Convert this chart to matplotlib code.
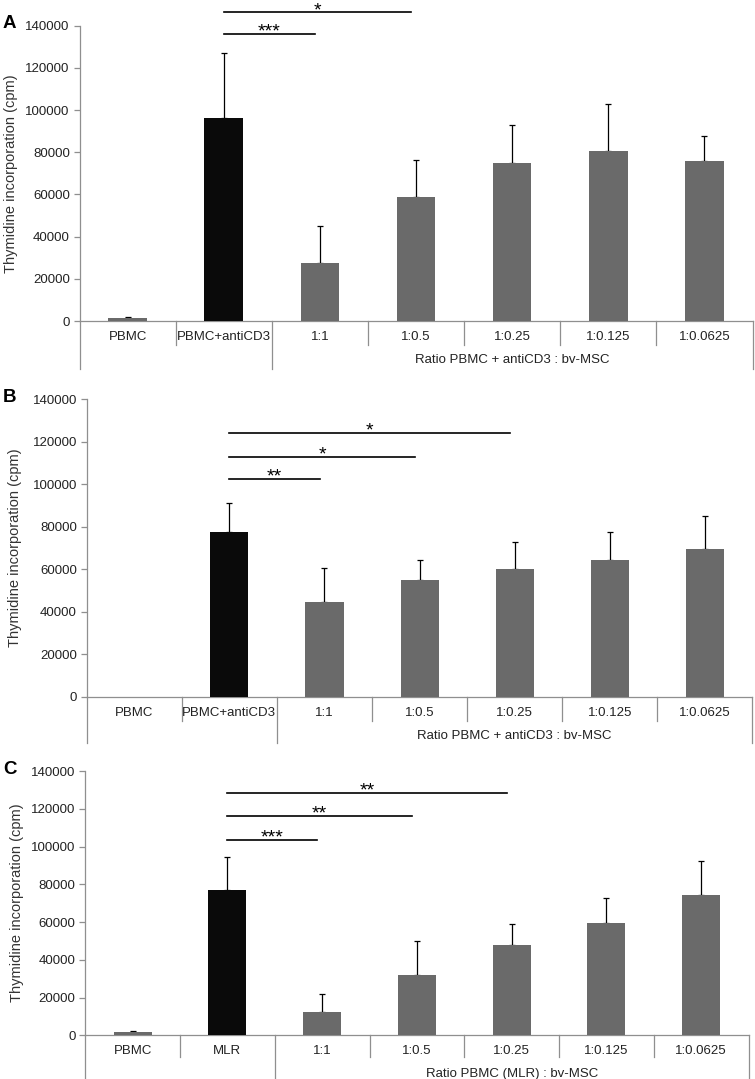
import numpy as np
import matplotlib.pyplot as plt

plt.rcParams['font.family'] = ['Liberation Sans', 'DejaVu Sans']

# categories
cats_ab = ['PBMC', 'PBMC+antiCD3', '1:1', '1:0.5', '1:0.25', '1:0.125', '1:0.0625']
cats_c = ['PBMC', 'MLR', '1:1', '1:0.5', '1:0.25', '1:0.125', '1:0.0625']
group_ab = 'Ratio PBMC + antiCD3 : bv-MSC'
group_c = 'Ratio PBMC (MLR) : bv-MSC'

# thymidine incorporation (cpm), mean and upper error
mean_a = [1200, 96200, 27300, 58800, 75000, 80400, 76000]
err_a = [800, 30700, 17900, 17400, 18000, 22400, 11500]
mean_b = [0, 77700, 44700, 54800, 60100, 64500, 69700]
err_b = [0, 13300, 15900, 9700, 12600, 12900, 15500]
mean_c = [1900, 77100, 12500, 31800, 47700, 59500, 74100]
err_c = [400, 17100, 9400, 18000, 11300, 13200, 18200]

# significance lines: (from category, to category, height, stars)
sig_a = [(1, 2, 136300, '***'), (1, 3, 146300, '*')]
sig_b = [(1, 2, 102400, '**'), (1, 3, 113000, '*'), (1, 4, 124200, '*')]
sig_c = [(1, 2, 103400, '***'), (1, 3, 116200, '**'), (1, 4, 128500, '**')]

W, H = 755, 1079
AXIS_GREY = '#8f8f8f'
BAR_GREY = '#6a6a6a'
TEXT = '#222222'

fig = plt.figure(figsize=(W / 100, H / 100), dpi=100)


def draw_panel(box, letter, cats, means, errs, group, sigs):
    # box in pixels: left, right, top(140000), zero, row1, row2, ylabel x
    left, right, top, zero, row1, row2, ylab_x = box
    ax = fig.add_axes([left / W, (H - zero) / H, (right - left) / W, (zero - top) / H])
    axh = zero - top
    x = np.arange(len(cats))
    colors = [BAR_GREY] * len(cats)
    colors[1] = '#0a0a0a'
    ax.bar(x, means, width=0.4, color=colors, zorder=3)
    errs = np.array(errs)
    m = errs > 0
    ax.errorbar(x[m], np.array(means)[m], yerr=[np.zeros(m.sum()), errs[m]],
                fmt='none', ecolor='black', elinewidth=0.9, capsize=2.5,
                capthick=0.9, zorder=2)

    ax.set_xlim(-0.5, len(cats) - 0.5)
    ax.set_ylim(0, 140000)
    ax.set_yticks(np.arange(0, 140001, 20000))
    ax.set_yticklabels([str(v) for v in range(0, 140001, 20000)])
    ax.tick_params(axis='y', colors=AXIS_GREY, labelcolor=TEXT,
                   labelsize=9.5, length=4, width=0.9, pad=3)
    ax.set_xticks([])
    for s in ['top', 'right']:
        ax.spines[s].set_visible(False)
    for s in ['left', 'bottom']:
        ax.spines[s].set_color(AXIS_GREY)
        ax.spines[s].set_linewidth(0.9)

    # category table under the axis
    tr = ax.get_xaxis_transform()
    r1 = -(row1 - zero) / axh
    r2 = -(row2 - zero) / axh
    n = len(cats)
    for b in np.arange(-0.5, n, 1.0):
        bottom = r2 if b in (-0.5, 1.5, n - 0.5) else r1
        ax.plot([b, b], [0, bottom], transform=tr, color=AXIS_GREY,
                lw=0.9, clip_on=False)
    for i, c in enumerate(cats):
        ax.text(i, -16 / axh, c, transform=tr, ha='center', va='center',
                fontsize=9.5, color=TEXT)
    ax.text((2 + n - 1) / 2, -39 / axh, group, transform=tr, ha='center',
            va='center', fontsize=9.5, color=TEXT)

    # significance lines
    for a, b, y, stars in sigs:
        ax.plot([a, b - 0.05], [y, y], color='black', lw=1.2, clip_on=False)
        ax.annotate(stars, ((a + b - 0.05) / 2, y), xytext=(0, -2),
                    textcoords='offset points', ha='center', va='baseline',
                    fontsize=14, annotation_clip=False)

    fig.text(ylab_x / W, 1 - (top + zero) / 2 / H,
             'Thymidine incorporation (cpm)', rotation=90, ha='center',
             va='center', fontsize=10.5, color='#333333')
    fig.text(3 / W, 1 - (top - 2) / H, letter, fontsize=13.5, fontweight='bold',
             ha='left', va='center')
    return ax


draw_panel((79.5, 752.5, 25.7, 321, 345, 369, 11), 'A', cats_ab, mean_a, err_a, group_ab, sig_a)
draw_panel((86.7, 752.5, 399.3, 696.7, 721, 743, 15), 'B', cats_ab, mean_b, err_b, group_ab, sig_b)
draw_panel((85.2, 748.6, 771, 1035.3, 1057, 1079, 17), 'C', cats_c, mean_c, err_c, group_c, sig_c)

fig.savefig('out.png', dpi=100)
